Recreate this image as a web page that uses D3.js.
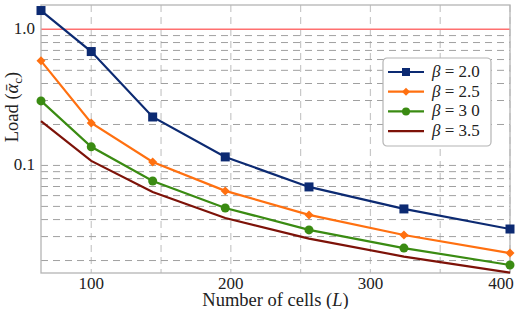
<!DOCTYPE html>
<html>
<head>
<meta charset="utf-8">
<script src="https://cdn.jsdelivr.net/npm/d3@7"></script>
<style>
  body { margin: 0; background: white; }
  text { font-family: "Liberation Serif", "DejaVu Serif", serif; fill: #222; }
</style>
</head>
<body>
<svg id="chart" width="515" height="309"></svg>
<script>
// data
const cells = [64, 100, 144, 196, 256, 324, 400];
const load20 = [1.375, 0.687, 0.227, 0.1155, 0.0695, 0.0479, 0.0341];
const load25 = [0.587, 0.205, 0.106, 0.065, 0.0433, 0.0308, 0.0227];
const load30 = [0.298, 0.137, 0.0769, 0.0487, 0.0336, 0.0247, 0.01855];
const load35 = [0.212, 0.108, 0.0638, 0.0411, 0.029, 0.0214, 0.0163];
const seriesNames = ["β = 2.0", "β = 2.5", "β = 3 0", "β = 3.5"];
const xTicks = [100, 200, 300, 400];
const yTicks = [0.1, 1.0];

const series = [
    { name: seriesNames[0], values: load20, color: "#0c2a72", marker: "square" },
    { name: seriesNames[1], values: load25, color: "#ff7010", marker: "diamond" },
    { name: seriesNames[2], values: load30, color: "#3a8b12", marker: "circle" },
    { name: seriesNames[3], values: load35, color: "#7d1208", marker: null }
];

const svg = d3.select("#chart");
const margin = { left: 41, right: 5, top: 5, bottom: 36 };
const width = 515, height = 309;

const x = d3.scaleLinear().domain([64, 400]).range([margin.left, width - margin.right]);
const y = d3.scaleLog().domain([0.0162, 1.51]).range([height - margin.bottom, margin.top]);

// grid
const xGrid = d3.range(100, 401, 50);
svg.append("g").selectAll("line").data(xGrid).join("line")
    .attr("x1", d => x(d)).attr("x2", d => x(d))
    .attr("y1", margin.top).attr("y2", height - margin.bottom)
    .attr("stroke", "#c8c8c8").attr("stroke-width", 1.2)
    .attr("stroke-dasharray", "7,5");

const yGrid = [];
for (let k = 2; k <= 9; k++) yGrid.push(k / 100);
for (let k = 1; k <= 9; k++) yGrid.push(k / 10);
svg.append("g").selectAll("line").data(yGrid).join("line")
    .attr("x1", margin.left).attr("x2", width - margin.right)
    .attr("y1", d => y(d)).attr("y2", d => y(d))
    .attr("stroke", "#a0a0a0").attr("stroke-width", 1)
    .attr("stroke-dasharray", "7,5");

// threshold line at 1.0
svg.append("line")
    .attr("x1", margin.left).attr("x2", width - margin.right)
    .attr("y1", y(1)).attr("y2", y(1))
    .attr("stroke", "#ff7070").attr("stroke-width", 1.5);

// frame
svg.append("rect")
    .attr("x", margin.left).attr("y", margin.top)
    .attr("width", width - margin.right - margin.left)
    .attr("height", height - margin.bottom - margin.top)
    .attr("fill", "none").attr("stroke", "#b4b4b4").attr("stroke-width", 1.3);

// tick labels
svg.append("g").selectAll("text").data(xTicks).join("text")
    .text(d => d)
    .attr("x", d => Math.min(x(d), 501)).attr("y", 289)
    .attr("text-anchor", "middle").attr("font-size", 17);

svg.append("g").selectAll("text").data(yTicks).join("text")
    .text(d => d.toFixed(1))
    .attr("x", 35).attr("y", d => y(d) + 5)
    .attr("text-anchor", "end").attr("font-size", 17);

// axis titles
const xl = svg.append("text")
    .attr("x", (margin.left + width - margin.right) / 2).attr("y", 306)
    .attr("text-anchor", "middle").attr("font-size", 18.5);
xl.append("tspan").text("Number of cells (");
xl.append("tspan").text("L").attr("font-style", "italic");
xl.append("tspan").text(")");

const yl = svg.append("text")
    .attr("transform", "translate(18,107) rotate(-90)")
    .attr("text-anchor", "middle").attr("font-size", 18.5);
yl.append("tspan").text("Load (");
yl.append("tspan").text("ᾱ").attr("font-style", "italic");
yl.append("tspan").text("c").attr("font-size", 13).attr("dy", 4);
yl.append("tspan").text(")").attr("dy", -4);

// markers
function drawMarker(g, type, color, size) {
    if (type === "square") {
        g.append("rect").attr("x", -size / 2).attr("y", -size / 2)
            .attr("width", size).attr("height", size).attr("fill", color);
    } else if (type === "diamond") {
        const h = size / 2 + 0.5;
        g.append("path").attr("d", `M0,${-h}L${h},0L0,${h}L${-h},0Z`)
            .attr("fill", color);
    } else if (type === "circle") {
        g.append("circle").attr("r", size / 2).attr("fill", color);
    }
}

const line = d3.line().x((d, i) => x(cells[i])).y(d => y(d));
const markerSize = { square: 9, diamond: 8, circle: 9 };

series.forEach(s => {
    svg.append("path").datum(s.values)
        .attr("d", line)
        .attr("fill", "none").attr("stroke", s.color).attr("stroke-width", 2.2);
    if (s.marker) {
        s.values.forEach((v, i) => {
            const g = svg.append("g").attr("transform", "translate(" + x(cells[i]) + "," + y(v) + ")");
            drawMarker(g, s.marker, s.color, markerSize[s.marker]);
        });
    }
});

// legend
const legend = svg.append("g").attr("transform", "translate(383,58)");
legend.append("rect")
    .attr("width", 108).attr("height", 88).attr("rx", 4)
    .attr("fill", "white").attr("stroke", "#b4b4b4").attr("stroke-width", 1.2);
series.forEach((s, i) => {
    const row = legend.append("g").attr("transform", "translate(0," + (14 + i * 19.7) + ")");
    row.append("line").attr("x1", 5).attr("x2", 41).attr("y1", 0).attr("y2", 0)
        .attr("stroke", s.color).attr("stroke-width", 2.2);
    if (s.marker) {
        const g = row.append("g").attr("transform", "translate(23,0)");
        drawMarker(g, s.marker, s.color, markerSize[s.marker] - 1);
    }
    const t = row.append("text").attr("x", 49).attr("y", 5).attr("font-size", 17);
    t.append("tspan").text(s.name.slice(0, 1)).attr("font-style", "italic");
    t.append("tspan").text(s.name.slice(1));
});
</script>
</body>
</html>
